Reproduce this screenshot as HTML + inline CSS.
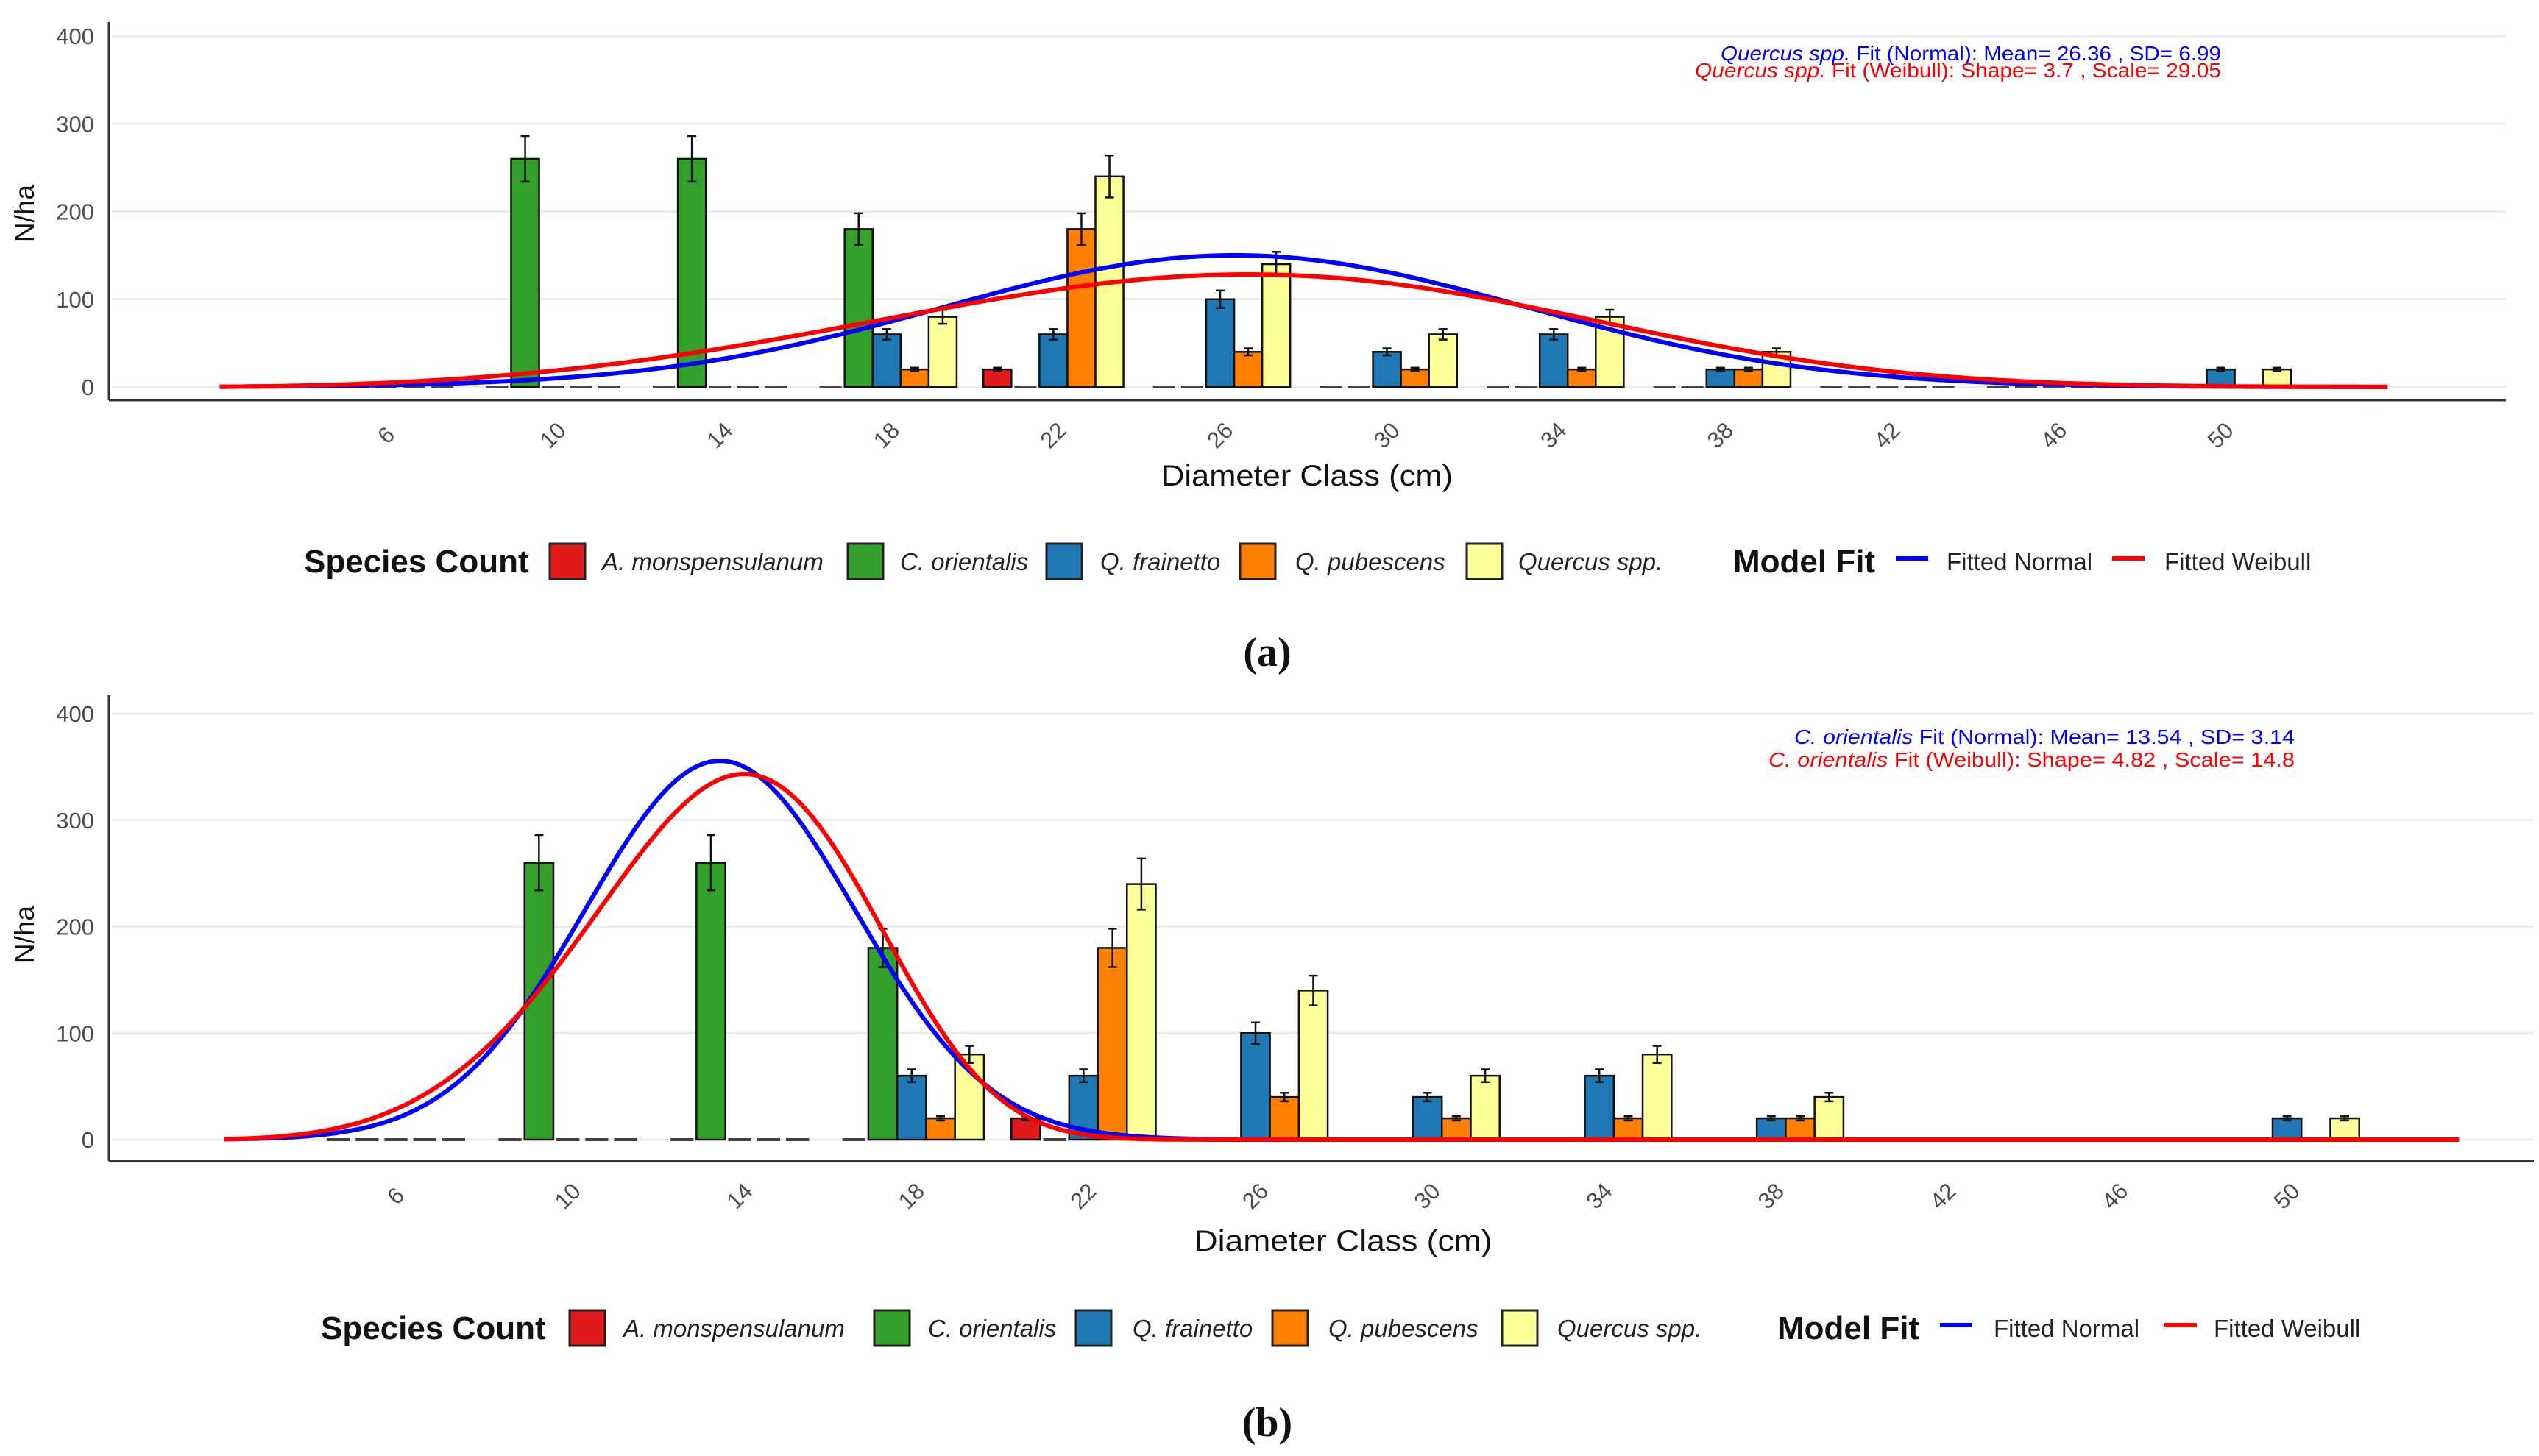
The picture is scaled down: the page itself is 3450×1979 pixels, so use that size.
<!DOCTYPE html>
<html><head><meta charset="utf-8">
<style>
html,body{margin:0;padding:0;background:#fff;}
svg{display:block;font-family:"Liberation Sans",sans-serif;}
</style></head>
<body>
<svg id="fig" width="3450" height="1979" viewBox="0 0 3450 1979" xmlns="http://www.w3.org/2000/svg"></svg>
<script>
// ---- data ----
const categories = [6,10,14,18,22,26,30,34,38,42,46,50];
const speciesNames = ["A. monspensulanum","C. orientalis","Q. frainetto","Q. pubescens","Quercus spp."];
const speciesColors = ["#e31a1c","#33a02c","#1f78b4","#ff7f00","#ffff99"];
const valsAmon   = [0,0,0,0,20,0,0,0,0,0,0,0];
const valsCori   = [0,260,260,180,0,0,0,0,0,0,0,0];
const valsQfra   = [0,0,0,60,60,100,40,60,20,0,0,20];
const valsQpub   = [0,0,0,20,180,40,20,20,20,0,0,0];
const valsQspp   = [0,0,0,80,240,140,60,80,40,0,0,20];
const errAmon    = [0,0,0,0,2,0,0,0,0,0,0,0];
const errCori    = [0,26,26,18,0,0,0,0,0,0,0,0];
const errQfra    = [0,0,0,6,6,10,4,6,2,0,0,2];
const errQpub    = [0,0,0,2,18,4,2,2,2,0,0,0];
const errQspp    = [0,0,0,8,24,14,6,8,4,0,0,2];
const yTicks = [0,100,200,300,400];
// fit parameters panel a (Quercus spp.) and b (C. orientalis)
const fitA = [26.36, 6.99, 3.7, 29.05];
const fitB = [13.54, 3.14, 4.82, 14.8];
const fitScaleA = 2630;
const fitScaleB = 2800;
const fitRange = [2, 54];

const allVals = [valsAmon,valsCori,valsQfra,valsQpub,valsQspp];
const allErrs = [errAmon,errCori,errQfra,errQpub,errQspp];
const NS = "http://www.w3.org/2000/svg";
const svg = document.getElementById('fig');
function mk(tag, attrs, parent, txt){
  const e = document.createElementNS(NS, tag);
  for (const k in attrs) e.setAttribute(k, attrs[k]);
  if (txt !== undefined) e.textContent = txt;
  (parent||svg).appendChild(e);
  return e;
}
function normPdf(x,m,s){return Math.exp(-0.5*((x-m)/s)**2)/(s*Math.sqrt(2*Math.PI));}
function weibPdf(x,k,l){ if(x<=0) return 0; return (k/l)*Math.pow(x/l,k-1)*Math.exp(-Math.pow(x/l,k)); }

function panel(cfg){
  const g = mk('g',{});
  
  
  const xPx = d => cfg.x6 + (d-6)*cfg.perCm;
  const yPx = v => cfg.y0 - v*cfg.pxPerUnit;
  yTicks.forEach(t=>{
    const l = mk('line',{x1:cfg.left+4,x2:cfg.right,y1:yPx(t),y2:yPx(t),stroke:'#ebebeb','stroke-width':3},g);
    
    
    const tl = mk('text',{x:cfg.left-20,y:yPx(t)+11,'text-anchor':'end','font-size':31,fill:'#4d4d4d'},g,String(t));
    
    
  });
  const ya = mk('line',{x1:cfg.left,x2:cfg.left,y1:cfg.top,y2:cfg.axisY,stroke:'#333','stroke-width':3},g);
  
  
  const xa = mk('line',{x1:cfg.left,x2:cfg.right,y1:cfg.axisY,y2:cfg.axisY,stroke:'#333','stroke-width':3},g);
  
  
  const slot = cfg.perCm*4*0.84/5;
  categories.forEach((c,ci)=>{
    const cx = xPx(c);
    const gx = cx - slot*2.5;
    allVals.forEach((arr,si)=>{
      const v = arr[ci];
      const bx = gx + si*slot;
      if (v===0){
        const d = mk('line',{x1:bx+4,x2:bx+slot-4,y1:cfg.y0,y2:cfg.y0,stroke:'#444','stroke-width':4},g);
        
        
        return;
      }
      const r = mk('rect',{x:bx,y:yPx(v),width:slot,height:v*cfg.pxPerUnit,fill:speciesColors[si],stroke:'#111','stroke-width':2.5},g);
      
      
      const e = allErrs[si][ci];
      if (e>0){
        const ex = bx+slot/2;
        const eg = mk('g',{stroke:'#111','stroke-width':2.5},g);
        
        
        mk('line',{x1:ex,x2:ex,y1:yPx(v+e),y2:yPx(v-e)},eg);
        mk('line',{x1:ex-6,x2:ex+6,y1:yPx(v+e),y2:yPx(v+e)},eg);
        mk('line',{x1:ex-6,x2:ex+6,y1:yPx(v-e),y2:yPx(v-e)},eg);
      }
    });
    const ly = cfg.axisY+48;
    const t = mk('text',{x:cx,y:ly+10,'text-anchor':'middle','font-size':31,fill:'#4d4d4d',transform:`rotate(-45 ${cx} ${ly})`},g,String(c));
    
    
  });
  const f = cfg.fit;
  let pn='', pw='';
  for (let d=fitRange[0]; d<=fitRange[1]+1e-9; d+=0.1){
    const X = xPx(d).toFixed(1);
    pn += (pn?'L':'M')+X+','+yPx(cfg.k*normPdf(d,f[0],f[1])).toFixed(1);
    pw += (pw?'L':'M')+X+','+yPx(cfg.k*weibPdf(d,f[2],f[3])).toFixed(1);
  }
  const cn = mk('path',{d:pn,fill:'none',stroke:'#0000ff','stroke-width':6},g);
  
  
  const cw = mk('path',{d:pw,fill:'none',stroke:'#ff0000','stroke-width':6},g);
  
  
  const a1 = mk('text',{x:cfg.annX,y:cfg.annY,'text-anchor':'end','font-size':28,fill:'#0000ff',textLength:cfg.annW1,lengthAdjust:'spacingAndGlyphs'},g);
  
  
  mk('tspan',{'font-style':'italic'},a1,cfg.sp);
  mk('tspan',{},a1,' Fit (Normal): Mean= '+f[0]+' , SD= '+f[1]);
  const a2 = mk('text',{x:cfg.annX,y:cfg.annY+cfg.annGap,'text-anchor':'end','font-size':28,fill:'#ff0000',textLength:cfg.annW2,lengthAdjust:'spacingAndGlyphs'},g);
  
  
  mk('tspan',{'font-style':'italic'},a2,cfg.sp);
  mk('tspan',{},a2,' Fit (Weibull): Shape= '+f[2]+' , Scale= '+f[3]);
  const yt = mk('text',{x:cfg.ytX,y:cfg.ytY,'text-anchor':'middle','font-size':37,fill:'#111',transform:`rotate(-90 ${cfg.ytX} ${cfg.ytY})`},g,'N/ha');
  
  
  const xt = mk('text',{x:cfg.xtX,y:cfg.xtY,'text-anchor':'middle','font-size':40,fill:'#111',textLength:cfg.xtW,lengthAdjust:'spacingAndGlyphs'},g,'Diameter Class (cm)');
  
  
  const L = cfg.leg; const ly = cfg.legY;
  const lg = mk('g',{},g);
  
  
  const st = mk('text',{x:L[0],y:ly+15,'font-size':44,'font-weight':'bold',fill:'#111'},lg,'Species Count');
  
  
  speciesNames.forEach((n,i)=>{
    const bx = L[1+i*2], tx = L[2+i*2];
    const r = mk('rect',{x:bx,y:ly-24,width:48,height:48,fill:speciesColors[i],stroke:'#222','stroke-width':3},lg);
    
    
    const t = mk('text',{x:tx,y:ly+12,'font-size':33,'font-style':'italic',fill:'#222'},lg,n);
    
    
  });
  const mt = mk('text',{x:L[11],y:ly+15,'font-size':44,'font-weight':'bold',fill:'#111'},lg,'Model Fit');
  
  
  [['#0000ff','Fitted Normal'],['#ff0000','Fitted Weibull']].forEach((m,i)=>{
    const lx = L[12+i*2], tx = L[13+i*2];
    const ln = mk('line',{x1:lx,x2:lx+44,y1:ly-4,y2:ly-4,stroke:m[0],'stroke-width':6},lg);
    
    
    const t = mk('text',{x:tx,y:ly+12,'font-size':33,fill:'#222'},lg,m[1]);
    
    
  });
  const pl = mk('text',{x:cfg.plX,y:cfg.plY,'text-anchor':'middle','font-size':56,'font-family':'"Liberation Serif",serif','font-weight':'bold',fill:'#111'},g,cfg.label);
  
  
}

panel({name:'panel-a', left:148, right:3405, top:30, axisY:544, y0:526, pxPerUnit:1.1925,
  x6:525, perCm:56.65, fit:fitA, k:fitScaleA, sp:'Quercus spp.',
  annX:3018, annY:82, annGap:23, annW1:680, annW2:715,
  ytX:46, ytY:290, xtX:1776, xtY:660, xtW:396,
  legY:763, leg:[413,747,818,1152,1223,1422,1495,1685,1760,1993,2063,2355,2576,2645,2870,2941],
  plX:1722, plY:905, label:'(a)'});
panel({name:'panel-b', left:148, right:3443, top:945, axisY:1578, y0:1549, pxPerUnit:1.4475,
  x6:538, perCm:58.4, fit:fitB, k:fitScaleB, sp:'C. orientalis',
  annX:3118, annY:1011, annGap:31, annW1:680, annW2:715,
  ytX:46, ytY:1270, xtX:1825, xtY:1700, xtW:405,
  legY:1805, leg:[436,774,847,1188,1261,1462,1539,1729,1805,2041,2116,2415,2636,2709,2941,3008],
  plX:1722, plY:1952, label:'(b)'});
</script>
</body></html>
